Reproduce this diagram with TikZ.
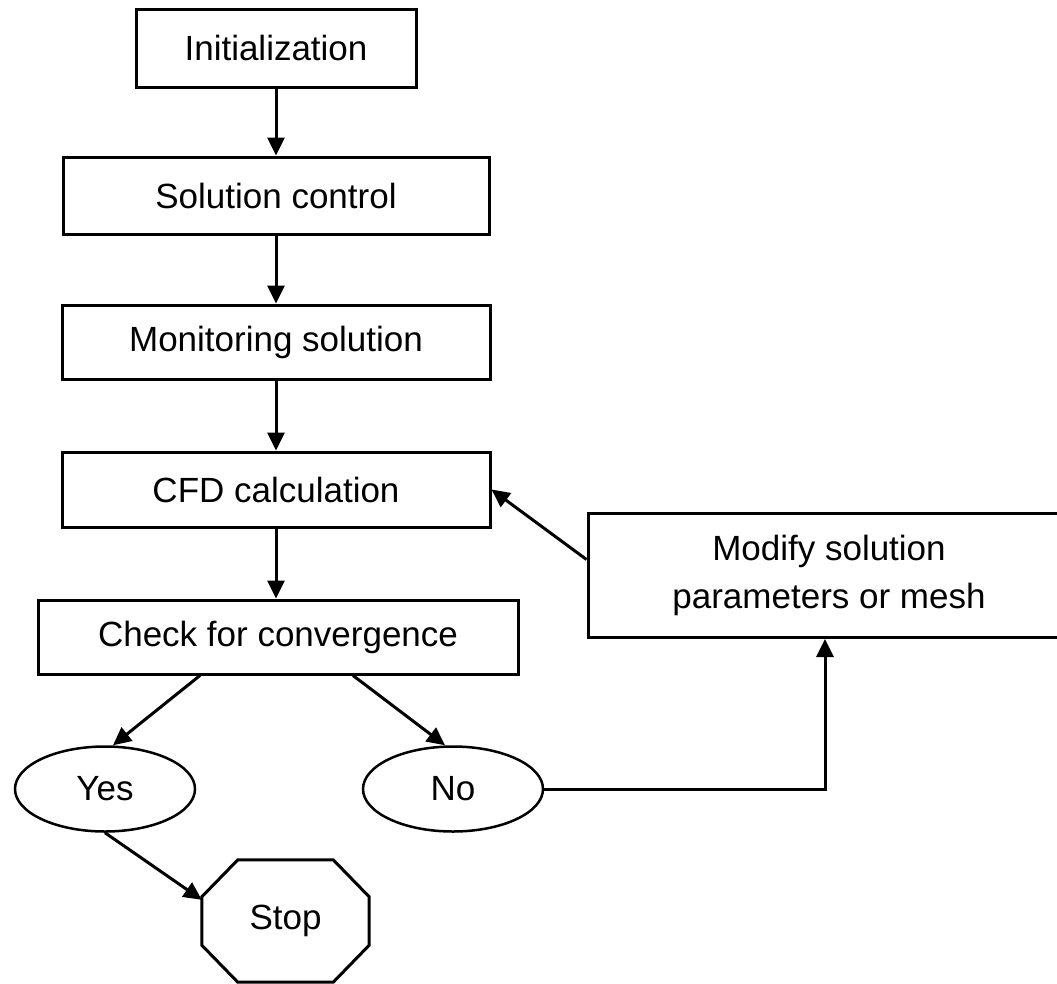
\documentclass[tikz,border=0pt]{standalone}
\usepackage{fontspec}
\setmainfont{Liberation Sans}
\usetikzlibrary{arrows.meta,shapes.geometric,calc}
\begin{document}
\begin{tikzpicture}[x=1pt,y=-1pt,
  every node/.style={font=\fontsize{35}{48}\selectfont},
  box/.style={draw,line width=3pt,inner sep=0pt,align=center},
  oval/.style={draw,ellipse,line width=2.5pt,inner sep=0pt,minimum width=180pt,minimum height=85pt},
  arr/.style={line width=3pt,-{Triangle[length=18pt,width=17pt]}}]
\useasboundingbox (0,0) rectangle (1057,983);
\node[box,minimum width=280pt,minimum height=78pt] (init) at (276,48) {Initialization};
\node[box,minimum width=426pt,minimum height=77pt] (solctl) at (276,195.5) {Solution control};
\node[box,minimum width=428pt,minimum height=74pt] (monit) at (276,342) {Monitoring solution};
\node[box,minimum width=428pt,minimum height=75pt] (cfd) at (276,489.5) {CFD calculation};
\node[box,minimum width=480pt,minimum height=74pt] (check) at (278,637) {Check for convergence};
\node[box,minimum width=482pt,minimum height=124pt] (modify) at (829,575.5) {Modify solution\\parameters or mesh};
\node[oval] (yes) at (105,789) {Yes};
\node[oval] (no) at (453,789) {No};
\node[inner sep=0pt,minimum width=167pt,minimum height=122pt] (stop) at (285.5,921) {Stop};
\draw[line width=3pt] ($(stop.north west)+(36,0)$) -- ($(stop.north east)+(-36,0)$) -- ($(stop.north east)+(0,37)$) -- ($(stop.south east)+(0,-37)$) -- ($(stop.south east)+(-36,0)$) -- ($(stop.south west)+(36,0)$) -- ($(stop.south west)+(0,-37)$) -- ($(stop.north west)+(0,37)$) -- cycle;
\draw[arr] (init) -- (solctl);
\draw[arr] (solctl) -- (monit);
\draw[arr] (monit) -- (cfd);
\draw[arr] (cfd.south) -- (cfd.south |- check.north);
\draw[arr] ($(modify.west)+(0,-16)$) -- (cfd.east);
\draw[arr] (no.east) -| ($(modify.south)+(-4,0)$);
\draw[arr] ($(check.south)+(-78,0)$) -- ($(yes.north)+(8,0)$);
\draw[arr] ($(check.south)+(75,0)$) -- ($(no.north)+(-8,0)$);
\draw[arr] (yes.south) -- ($(stop.north west)+(0,40)$);
\end{tikzpicture}
\end{document}
